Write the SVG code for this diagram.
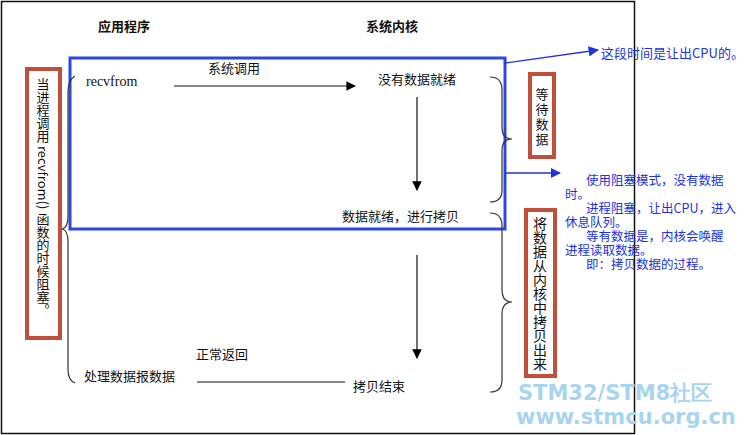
<svg xmlns="http://www.w3.org/2000/svg" width="750" height="435" viewBox="0 0 750 435">
<style>
text{font-family:"Noto Sans CJK SC","Liberation Sans",sans-serif;font-size:13px;fill:#111}
.b{font-weight:bold}
.blue{fill:#2233dd}
.v{writing-mode:vertical-rl;text-orientation:mixed}
.red{fill:#fff;stroke:#c0503c;stroke-width:4}
.ln{stroke:#111;stroke-width:1.2;fill:none}
.br{stroke:#333;stroke-width:1.2;fill:none}
</style>
<defs>
<marker id="ah" viewBox="0 0 10 10" refX="9" refY="5" markerWidth="8" markerHeight="8" orient="auto"><path d="M0,0L10,5L0,10z" fill="#000"/></marker>
<marker id="bh" viewBox="0 0 10 10" refX="9" refY="5" markerWidth="8" markerHeight="8" orient="auto"><path d="M0,0L10,5L0,10z" fill="#2233dd"/></marker>
</defs>
<rect x="0" y="0" width="750" height="435" fill="#fff"/>
<rect x="1.5" y="1.5" width="633" height="432" fill="none" stroke="#111" stroke-width="1.5"/>
<text x="98" y="31" class="b">应用程序</text>
<text x="366" y="31" class="b">系统内核</text>
<rect x="70" y="58" width="435" height="171" fill="none" stroke="#2c46e0" stroke-width="3"/>
<g id="left-note"><rect class="red" x="27" y="69" width="33" height="269"/>
<text class="v" x="43" y="78" style="font-size:13px">当进程调用 recvfrom() 函数的时候阻塞。</text></g>
<g id="wait"><rect class="red" x="530" y="74" width="24" height="83"/>
<text class="v" x="542" y="88" style="font-size:13px;letter-spacing:2px">等待数据</text></g>
<g id="copy"><rect class="red" x="526" y="210" width="29" height="166"/>
<text class="v" x="540" y="217" style="font-size:14px">将数据从内核中拷贝出来</text></g>
<g id="n-recv"><text x="86" y="86" style="font-family:'Liberation Serif',serif;font-size:14px">recvfrom</text></g>
<g id="n-syscall"><text x="208" y="73">系统调用</text></g>
<g id="n-nodata"><text x="378" y="84">没有数据就绪</text></g>
<g id="n-ready"><text x="342" y="221">数据就绪，进行拷贝</text></g>
<g id="n-ret"><text x="196" y="359">正常返回</text></g>
<g id="n-proc"><text x="84" y="381">处理数据报数据</text></g>
<g id="n-end"><text x="353" y="391">拷贝结束</text></g>
<g id="connectors">
<line class="ln" x1="174" y1="86" x2="355" y2="86" marker-end="url(#ah)"/>
<line class="ln" x1="417" y1="97" x2="417" y2="190" marker-end="url(#ah)"/>
<line class="ln" x1="417" y1="255" x2="417" y2="358" marker-end="url(#ah)"/>
<line class="ln" x1="197" y1="382" x2="345" y2="382"/>
<path class="br" d="M490,77 Q502,77 502,90 L502,128 Q502,139 512,139 Q502,139 502,150 L502,190 Q502,202 490,202"/>
<path class="br" d="M490,213 Q502,213 502,226 L502,290 Q502,302 512,302 Q502,302 502,314 L502,380 Q502,392 490,392"/>
<path class="br" d="M75,76 Q68,80 68,92 L68,216 Q68,228 62,229 Q68,230 68,242 L68,370 Q68,380 75,383"/>
<line x1="505" y1="63" x2="598" y2="50" stroke="#2233dd" stroke-width="1.3" marker-end="url(#bh)"/>
<line x1="505" y1="173" x2="560" y2="173" stroke="#2233dd" stroke-width="1.3" marker-end="url(#bh)"/>
</g>
<text x="601" y="58" class="blue" style="font-size:13px">这段时间是让出CPU的。</text>
<g class="blue" style="font-size:12.5px">
<text x="586" y="185" class="blue" style="font-size:12.5px">使用阻塞模式，没有数据</text>
<text x="565" y="199" class="blue" style="font-size:12.5px">时。</text>
<text x="586" y="213" class="blue" style="font-size:12.5px">进程阻塞，让出CPU，进入</text>
<text x="565" y="227" class="blue" style="font-size:12.5px">休息队列。</text>
<text x="586" y="241" class="blue" style="font-size:12.5px">等有数据是，内核会唤醒</text>
<text x="565" y="255" class="blue" style="font-size:12.5px">进程读取数据。</text>
<text x="586" y="269" class="blue" style="font-size:12.5px">即：拷贝数据的过程。</text>
</g>
<text x="518" y="400" style="font-family:'DejaVu Sans',sans-serif;font-size:21px;font-weight:bold;fill:#a8d4f0">STM32/STM8社区</text>
<text x="516" y="424" style="font-family:'DejaVu Sans',sans-serif;font-size:21px;font-weight:bold;fill:#a8d4f0">www.stmcu.org.cn</text>
</svg>
